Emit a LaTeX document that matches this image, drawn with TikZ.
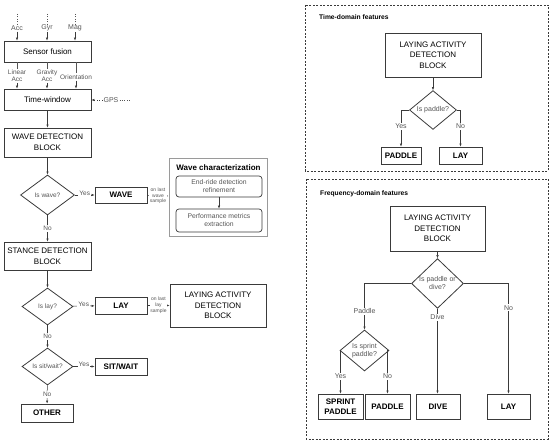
\documentclass[tikz,border=0pt]{standalone}
\usepackage{fontspec}
\setmainfont{Liberation Sans}
\usetikzlibrary{shapes.geometric,arrows.meta}
\definecolor{linegray}{HTML}{3A3A3A}
\definecolor{labelgray}{HTML}{555555}
\definecolor{framegray}{HTML}{9A9A9A}
\tikzset{
  box/.style={draw=linegray, line width=0.8pt, inner sep=0pt, align=center, font=\fontsize{8}{10.5}\selectfont},
  outcome/.style={box, font=\fontsize{8}{9.5}\selectfont\bfseries},
  decision/.style={diamond, draw=linegray, line width=0.8pt, inner sep=0pt, align=center, text=labelgray, font=\fontsize{6.5}{7.5}\selectfont},
  subbox/.style={draw=linegray, line width=0.7pt, rounded corners=3pt, inner sep=0pt, align=center, text=labelgray, minimum width=86pt, font=\fontsize{6.8}{8}\selectfont},
  arr/.style={draw=linegray, line width=0.5pt, -{Latex[length=3pt,width=2.4pt]}},
  lbl/.style={font=\fontsize{6.5}{7.5}\selectfont, text=labelgray, fill=white, inner sep=1pt, align=center},
  tinylbl/.style={font=\fontsize{5}{5.8}\selectfont, text=labelgray, fill=white, inner sep=0.5pt, align=center},
  sensor/.style={font=\fontsize{7}{8}\selectfont, text=labelgray, inner sep=1pt, align=center},
  title/.style={font=\fontsize{6.7}{8}\selectfont\bfseries, anchor=west, inner sep=0pt},
  frame/.style={draw=linegray, line width=0.7pt, dash pattern=on 2pt off 1.5pt}
}
\begin{document}
\begin{tikzpicture}[x=1pt, y=-1pt]
\useasboundingbox (0,0) rectangle (550,443);
% sensors and pre-processing
\node[sensor] (acc) at (17,28) {Acc};
\node[sensor] (gyr) at (47,28) {Gyr};
\node[sensor] (mag) at (75,28) {Mag};
\coordinate (accin) at (17,14);
\coordinate (gyrin) at (47,14);
\coordinate (magin) at (75,14);
\node[box, minimum width=87pt, minimum height=21pt] (fusion) at (47.5,51.5) {Sensor fusion};
\foreach \s in {acc,gyr,mag}{
  \draw[labelgray, line width=0.4pt, dotted] (\s in) -- (\s);
  \draw[arr] (\s) -- (\s |- fusion.north);
}
\node[sensor, font=\fontsize{6.5}{6.8}\selectfont] (lin) at (17,76) {Linear\\Acc};
\node[sensor, font=\fontsize{6.5}{6.8}\selectfont] (grav) at (47,76) {Gravity\\Acc};
\node[sensor, font=\fontsize{6.5}{6.8}\selectfont] (ori) at (76,77) {Orientation};
\node[box, minimum width=87pt, minimum height=21pt] (timewin) at (47.5,99.5) {Time-window};
\foreach \s in {lin,grav,ori}{
  \draw[labelgray, line width=0.4pt] (\s |- fusion.south) -- (\s);
  \draw[arr] (\s) -- (\s |- timewin.north);
}
\node[sensor] (gps) at (111,100) {GPS};
\coordinate (gpsin) at (131,100);
\draw[labelgray, line width=0.4pt, dotted] (gps) -- (gpsin);
\draw[arr, dotted] (gps) -- (timewin.east |- gps);
% wave branch
\node[box, minimum width=87pt, minimum height=29pt] (wavedet) at (47.5,142.5) {WAVE DETECTION\\BLOCK};
\node[decision, minimum width=54pt, minimum height=40pt] (iswave) at (47.5,195) {Is wave?};
\node[outcome, minimum width=52pt, minimum height=16pt] (wave) at (121,195) {WAVE};
\node[draw=framegray, line width=0.9pt, minimum width=98pt, minimum height=78pt, inner sep=0pt] (wavechar) at (218,197) {};
\node[font=\fontsize{8}{9}\selectfont\bfseries, inner sep=0pt] (wavetitle) at (218.5,167.5) {Wave characterization};
\node[subbox, minimum height=21pt] (endride) at (219,186.5) {End-ride detection\\refinement};
\node[subbox, minimum height=23pt] (perf) at (219,220.5) {Performance metrics\\extraction};
\draw[arr] (endride) -- (perf);
\draw[arr] (timewin) -- (wavedet);
\draw[arr] (wavedet) -- (iswave);
\draw[arr] (iswave) -- node[lbl, yshift=2pt] {Yes} (wave);
\draw[arr] (wave) -- node[tinylbl] {on last\\wave\\sample} (wavechar);
% stance branch
\node[box, minimum width=87pt, minimum height=28pt] (stance) at (47.5,256) {STANCE DETECTION\\BLOCK};
\draw[arr] (iswave) -- node[lbl] {No} (stance);
\node[decision, minimum width=51pt, minimum height=37pt] (islay) at (47.5,306.5) {Is lay?};
\node[outcome, minimum width=52pt, minimum height=17pt] (lay) at (121,305.5) {LAY};
\node[box, minimum width=96pt, minimum height=43pt] (layingL) at (218,305.5) {LAYING ACTIVITY\\DETECTION\\BLOCK};
\draw[arr] (stance) -- (islay);
\draw[arr] (islay) -- node[lbl, yshift=2pt] {Yes} (lay);
\draw[arr] (lay) -- node[tinylbl] {on last\\lay\\sample} (layingL);
\node[decision, minimum width=51pt, minimum height=37pt] (issit) at (47.5,366.5) {Is sit/wait?};
\node[outcome, minimum width=52pt, minimum height=17pt] (sit) at (121,366.5) {SIT/WAIT};
\node[outcome, minimum width=52pt, minimum height=18pt] (other) at (47,413) {OTHER};
\draw[arr] (islay) -- node[lbl] {No} (issit);
\draw[arr] (issit) -- node[lbl, yshift=2pt] {Yes} (sit);
\draw[arr] (issit) -- node[lbl] {No} (other);
% time-domain features
\draw[frame] (305,5) rectangle (548,171);
\node[title] (titleT) at (319,17) {Time-domain features};
\node[box, minimum width=96pt, minimum height=44pt] (layT) at (433,55) {LAYING ACTIVITY\\DETECTION\\BLOCK};
\node[decision, minimum width=47pt, minimum height=36pt, font=\fontsize{7}{8}\selectfont] (ispadT) at (433,110) {Is paddle?};
\node[outcome, minimum width=40pt, minimum height=17pt] (padT) at (401,155.5) {PADDLE};
\node[outcome, minimum width=43pt, minimum height=17pt] (layT2) at (460.5,155.5) {LAY};
\draw[arr] (layT) -- (ispadT);
\draw[arr] (ispadT.west) -| node[lbl, pos=0.72, font=\fontsize{7}{8}\selectfont] {Yes} (padT.north);
\draw[arr] (ispadT.east) -| node[lbl, pos=0.72, font=\fontsize{7}{8}\selectfont] {No} (layT2.north);
% frequency-domain features
\draw[frame] (306,179) rectangle (548,439);
\node[title] (titleF) at (320,194) {Frequency-domain features};
\node[box, minimum width=95pt, minimum height=45pt] (layF) at (437.5,228.5) {LAYING ACTIVITY\\DETECTION\\BLOCK};
\node[decision, minimum width=52pt, minimum height=41pt, font=\fontsize{7}{8}\selectfont] (ispd) at (437.5,283.5) {Is paddle or\\dive?};
\node[decision, minimum width=49pt, minimum height=41pt, font=\fontsize{7}{8}\selectfont] (issp) at (364.5,350.5) {Is sprint\\paddle?};
\node[outcome, minimum width=45pt, minimum height=25pt] (spF) at (340.5,406.5) {SPRINT\\PADDLE};
\node[outcome, minimum width=45pt, minimum height=25pt] (padF) at (387.5,406.5) {PADDLE};
\node[outcome, minimum width=44pt, minimum height=25pt] (diveF) at (438,406.5) {DIVE};
\node[outcome, minimum width=43pt, minimum height=25pt] (layF2) at (508.5,406.5) {LAY};
\draw[arr] (layF) -- (ispd);
\draw[arr] (ispd.west) -| node[lbl, pos=0.8, font=\fontsize{7}{8}\selectfont] {Paddle} (issp.north);
\draw[arr] (ispd.south) -- node[lbl, pos=0.1, font=\fontsize{7}{8}\selectfont] {Dive} (diveF.north -| ispd.south);
\draw[arr] (ispd.east) -| node[lbl, pos=0.61, font=\fontsize{7}{8}\selectfont] {No} (layF2.north);
\draw[arr] (issp.west) -| node[lbl, pos=0.8, font=\fontsize{7}{8}\selectfont] {Yes} (spF.north);
\draw[arr] (issp.east) -| node[lbl, pos=0.8, font=\fontsize{7}{8}\selectfont] {No} (padF.north);
\end{tikzpicture}
\end{document}
